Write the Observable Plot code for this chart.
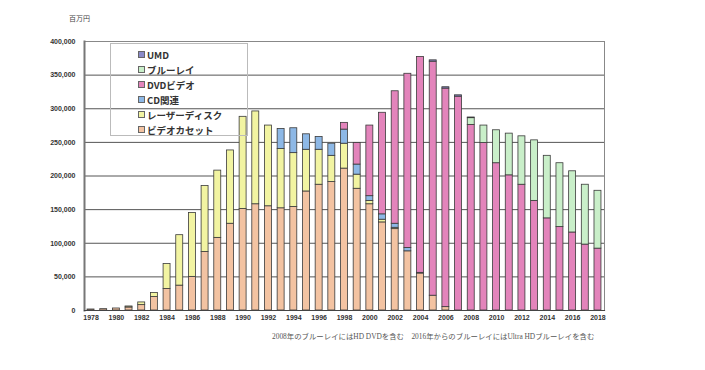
<!DOCTYPE html>
<html>
<head>
<meta charset="utf-8">
<script src="https://cdn.jsdelivr.net/npm/d3@7"></script>
<script src="https://cdn.jsdelivr.net/npm/@observablehq/plot@0.6"></script>
<style>
  body { margin: 0; background: #fff; }
  #wrap { position: relative; width: 705px; height: 370px; overflow: hidden; font-family: "Liberation Sans", "Noto Sans CJK JP", sans-serif; }
  #unit { position: absolute; left: 69px; top: 13px; font-size: 7px; color: #444; font-family: "Noto Sans CJK JP", sans-serif; }
  #legend { position: absolute; left: 110px; top: 43px; width: 138px; height: 93px; border: 1px solid #bbb; box-sizing: border-box; }
  .li { position: absolute; left: 27px; font-size: 9.5px; font-weight: bold; color: #333; line-height: 12px; white-space: nowrap; font-family: "Noto Sans CJK JP", sans-serif; }
  .sw { display: inline-block; width: 5px; height: 5px; border: 1px solid #666; margin-right: 2px; vertical-align: 1px; }
  #note { position: absolute; left: 272px; top: 330px; font-size: 7.4px; color: #555; white-space: nowrap; font-family: "Liberation Serif", "Noto Sans CJK JP", serif; }
</style>
</head>
<body>
<div id="wrap">
  <div id="chart"></div>
  <div id="unit">百万円</div>
  <div id="legend"></div>
  <div id="note">2008年のブルーレイにはHD DVDを含む　2016年からのブルーレイにはUltra HDブルーレイを含む</div>
</div>
<script>
const years = d3.range(1978, 2019);
const categories = ["ビデオカセット", "レーザーディスク", "CD関連", "DVDビデオ", "ブルーレイ", "UMD"];
const colors = ["#f3c3a2", "#f2f4a2", "#8db8e6", "#e384bb", "#c9efc9", "#8a8ac8"];
// values in 百万円, one entry per year 1978..2018
const vhs = [1500, 2000, 3000, 4500, 8000, 20000, 32000, 37000, 50000, 87000, 108000, 129000, 151000, 158000, 155000, 152000, 154000, 177000, 187000, 191000, 211000, 181000, 158000, 131000, 121000, 88000, 55000, 22000, 5000, 0, 0, 0, 0, 0, 0, 0, 0, 0, 0, 0, 0];
const ld  = [0, 0, 0, 1500, 4000, 6000, 37000, 75000, 95000, 98000, 100000, 109000, 137000, 138000, 120000, 88000, 80000, 62000, 52000, 39000, 37000, 21000, 5000, 4000, 2000, 0, 0, 0, 0, 0, 0, 0, 0, 0, 0, 0, 0, 0, 0, 0, 0];
const cd  = [0, 0, 0, 0, 0, 0, 0, 0, 0, 0, 0, 0, 0, 0, 0, 30000, 37000, 23000, 19000, 18000, 21000, 15000, 7000, 8000, 6000, 5000, 1000, 0, 0, 0, 0, 0, 0, 0, 0, 0, 0, 0, 0, 0, 0];
const dvd = [0, 0, 0, 0, 0, 0, 0, 0, 0, 0, 0, 0, 0, 0, 0, 0, 0, 0, 0, 0, 10000, 32000, 105000, 151000, 197000, 259000, 321000, 348000, 325000, 318000, 276000, 249000, 219000, 201000, 187000, 163000, 137000, 124000, 116000, 98000, 92000];
const bd  = [0, 0, 0, 0, 0, 0, 0, 0, 0, 0, 0, 0, 0, 0, 0, 0, 0, 0, 0, 0, 0, 0, 0, 0, 0, 0, 0, 0, 0, 0, 10000, 26000, 49000, 62000, 72000, 90000, 93000, 95000, 91000, 89000, 86000];
const umd = [0, 0, 0, 0, 0, 0, 0, 0, 0, 0, 0, 0, 0, 0, 0, 0, 0, 0, 0, 0, 0, 0, 0, 0, 0, 0, 0, 2000, 2000, 2000, 1000, 0, 0, 0, 0, 0, 0, 0, 0, 0, 0];
const yTicks = [0, 50000, 100000, 150000, 200000, 250000, 300000, 350000, 400000];
const xTicks = years.filter(y => y % 2 === 0);

const series = [vhs, ld, cd, dvd, bd, umd];
const data = [];
categories.forEach((c, i) => {
  years.forEach((y, j) => {
    if (series[i][j] > 0) data.push({year: y, type: c, value: series[i][j]});
  });
});

const chart = Plot.plot({
  width: 705,
  height: 370,
  marginLeft: 84,
  marginRight: 101,
  marginTop: 41,
  marginBottom: 60,
  style: {fontFamily: "Liberation Sans, sans-serif", fontSize: "7px", fontWeight: "bold", color: "#333", background: "transparent"},
  x: {type: "band", domain: years, round: false, paddingInner: 0.45, paddingOuter: 0.24, ticks: xTicks, tickSize: 0, tickPadding: 5, label: null, tickFormat: d => String(d)},
  y: {domain: [0, 400000], ticks: yTicks, tickSize: 0, tickPadding: 9, label: null, tickFormat: d3.format(",")},
  color: {domain: categories, range: colors},
  marks: [
    Plot.ruleY(yTicks, {stroke: "#555", strokeWidth: 1}),
    Plot.barY(data, {x: "year", y: "value", fill: "type", order: categories, stroke: "#3a3a3a", strokeWidth: 0.8}),
    Plot.frame({stroke: "#888", strokeWidth: 1}),
    Plot.frame({anchor: "left", stroke: "#777", strokeWidth: 2}),
    Plot.frame({anchor: "bottom", stroke: "#444", strokeWidth: 1.2})
  ]
});
document.getElementById("chart").appendChild(chart);

const legendOrder = ["UMD", "ブルーレイ", "DVDビデオ", "CD関連", "レーザーディスク", "ビデオカセット"];
const legend = document.getElementById("legend");
legendOrder.forEach((name, i) => {
  const el = document.createElement("div");
  el.className = "li";
  el.style.top = (5 + i * 15) + "px";
  const sw = document.createElement("span");
  sw.className = "sw";
  sw.style.background = colors[categories.indexOf(name)];
  el.appendChild(sw);
  el.appendChild(document.createTextNode(name));
  legend.appendChild(el);
});
</script>
</body>
</html>
